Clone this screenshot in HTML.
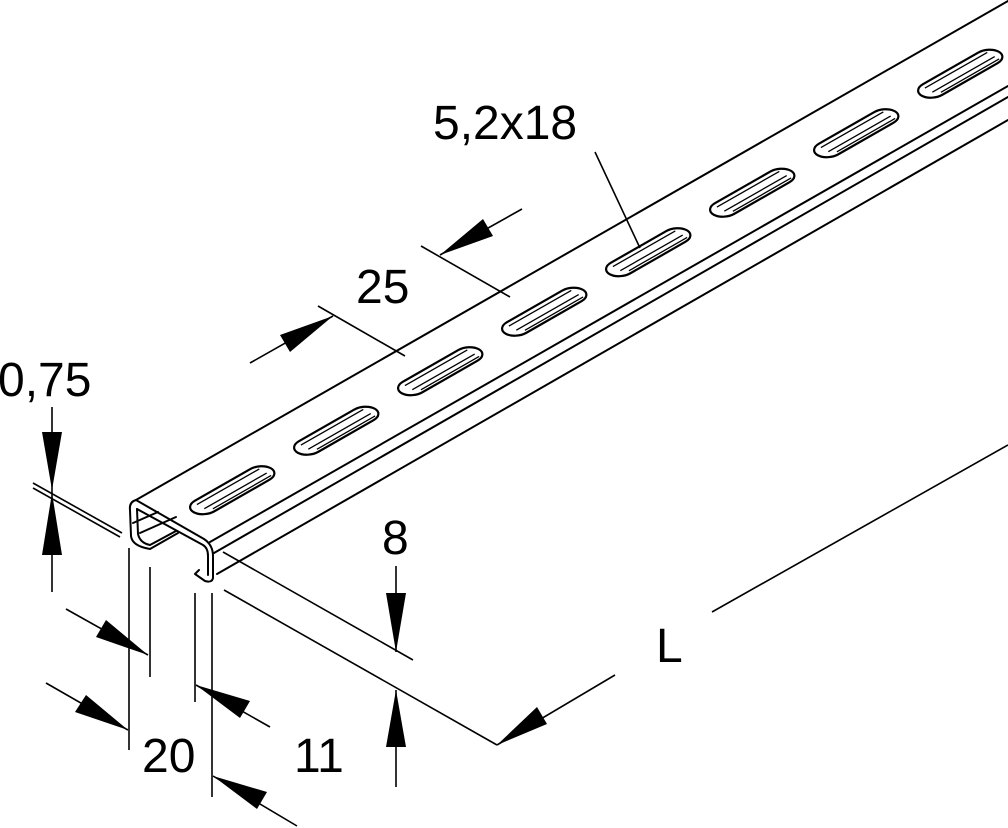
<!DOCTYPE html>
<html><head><meta charset="utf-8"><style>
html,body{margin:0;padding:0;background:#fff}
svg{display:block}
text{font-family:"Liberation Sans",sans-serif;font-size:48px;fill:#000}
</style></head><body>
<svg width="1008" height="828" viewBox="0 0 1008 828" xmlns="http://www.w3.org/2000/svg">
<rect width="1008" height="828" fill="#fff"/>
<g stroke="#000" stroke-width="2" fill="none" stroke-linecap="round" stroke-linejoin="round">
<line x1="136" y1="500" x2="1008" y2="1"/>
<line x1="210" y1="542" x2="1008" y2="86"/>
<line x1="214" y1="553" x2="1008" y2="97"/>
<line x1="217" y1="574" x2="1008" y2="120"/>
<path d="M136,500 Q129,502 130,510 L131,536 Q132,546 150,549 L178,533"/>
<path d="M137,509 L138,534 Q140,543 150,545 L176,531"/>
<path d="M136,500 L204,539 Q213,545 213,556 L213,578 Q212,583 205,581 L195,574 L199,570"/>
<path d="M137,509 L203,545 Q208,548 208,556 L208,575"/>
<line x1="140" y1="533" x2="176" y2="517"/>
<line x1="133" y1="523" x2="158" y2="512"/>
</g>
<g stroke="#000" fill="none" stroke-width="2.2">
<g transform="matrix(4.16,-2.38,3.7,2.05,133,502)">
<g>
<rect x="5" y="8.2" width="18.5" height="5.2" rx="2.6" vector-effect="non-scaling-stroke"/>
<rect x="30" y="8.2" width="18.5" height="5.2" rx="2.6" vector-effect="non-scaling-stroke"/>
<rect x="55" y="8.2" width="18.5" height="5.2" rx="2.6" vector-effect="non-scaling-stroke"/>
<rect x="80" y="8.2" width="18.5" height="5.2" rx="2.6" vector-effect="non-scaling-stroke"/>
<rect x="105" y="8.2" width="18.5" height="5.2" rx="2.6" vector-effect="non-scaling-stroke"/>
<rect x="130" y="8.2" width="18.5" height="5.2" rx="2.6" vector-effect="non-scaling-stroke"/>
<rect x="155" y="8.2" width="18.5" height="5.2" rx="2.6" vector-effect="non-scaling-stroke"/>
<rect x="180" y="8.2" width="18.5" height="5.2" rx="2.6" vector-effect="non-scaling-stroke"/>
</g>
<g stroke-width="1.3">
<path d="M7,9.4 H22 M7,11.4 H22 M8,12.6 H22" vector-effect="non-scaling-stroke"/>
<path d="M32,9.4 H47 M32,11.4 H47 M33,12.6 H47" vector-effect="non-scaling-stroke"/>
<path d="M57,9.4 H72 M57,11.4 H72 M58,12.6 H72" vector-effect="non-scaling-stroke"/>
<path d="M82,9.4 H97 M82,11.4 H97 M83,12.6 H97" vector-effect="non-scaling-stroke"/>
<path d="M107,9.4 H122 M107,11.4 H122 M108,12.6 H122" vector-effect="non-scaling-stroke"/>
<path d="M132,9.4 H147 M132,11.4 H147 M133,12.6 H147" vector-effect="non-scaling-stroke"/>
<path d="M157,9.4 H172 M157,11.4 H172 M158,12.6 H172" vector-effect="non-scaling-stroke"/>
<path d="M182,9.4 H197 M182,11.4 H197 M183,12.6 H197" vector-effect="non-scaling-stroke"/>
</g>
</g>
</g>
<g stroke="#000" stroke-width="1.6" fill="none">
<line x1="52" y1="407" x2="52" y2="592"/>
<line x1="33" y1="483" x2="122" y2="533"/>
<line x1="33" y1="488" x2="120" y2="537"/>
<line x1="129" y1="548" x2="129" y2="750"/>
<line x1="150" y1="567" x2="150" y2="677"/>
<line x1="195" y1="593" x2="195" y2="702"/>
<line x1="212" y1="593" x2="212" y2="797"/>
<line x1="66" y1="609" x2="148" y2="655"/>
<line x1="46" y1="683" x2="128" y2="730"/>
<line x1="196" y1="685" x2="270" y2="727"/>
<line x1="213" y1="776" x2="297" y2="826"/>
<line x1="223" y1="552" x2="413" y2="660"/>
<line x1="224" y1="590" x2="497" y2="745"/>
<line x1="497" y1="745" x2="615" y2="675"/>
<line x1="712" y1="612" x2="1008" y2="445"/>
<line x1="396" y1="566" x2="396" y2="652"/>
<line x1="396" y1="690" x2="396" y2="787"/>
<line x1="318" y1="306" x2="405" y2="356"/>
<line x1="421" y1="246" x2="510" y2="297"/>
<line x1="250" y1="363" x2="333" y2="316"/>
<line x1="440" y1="255" x2="522" y2="209"/>
<line x1="595" y1="152" x2="640" y2="248"/>
</g>
<g fill="#000" stroke="none">
<polygon points="52,490 42,432 62,432"/>
<polygon points="52,493 42,555 62,555"/>
<polygon points="148,655 96,637 106,620"/>
<polygon points="128,730 75,712 86,695"/>
<polygon points="196,685 250,701 240,718"/>
<polygon points="213,776 267,792 257,809"/>
<polygon points="396,652 386,593 406,593"/>
<polygon points="396,690 386,747 406,747"/>
<polygon points="497,745 537,707 547,724"/>
<polygon points="333,316 290,352 280,335"/>
<polygon points="440,255 483,219 493,236"/>
</g>
<text x="-2" y="396">0,75</text>
<text x="142" y="772">20</text>
<text x="294" y="772">11</text>
<text x="382" y="554">8</text>
<text x="656" y="662">L</text>
<text x="356" y="303">25</text>
<text x="433" y="139">5,2x18</text>
</svg>
</body></html>
